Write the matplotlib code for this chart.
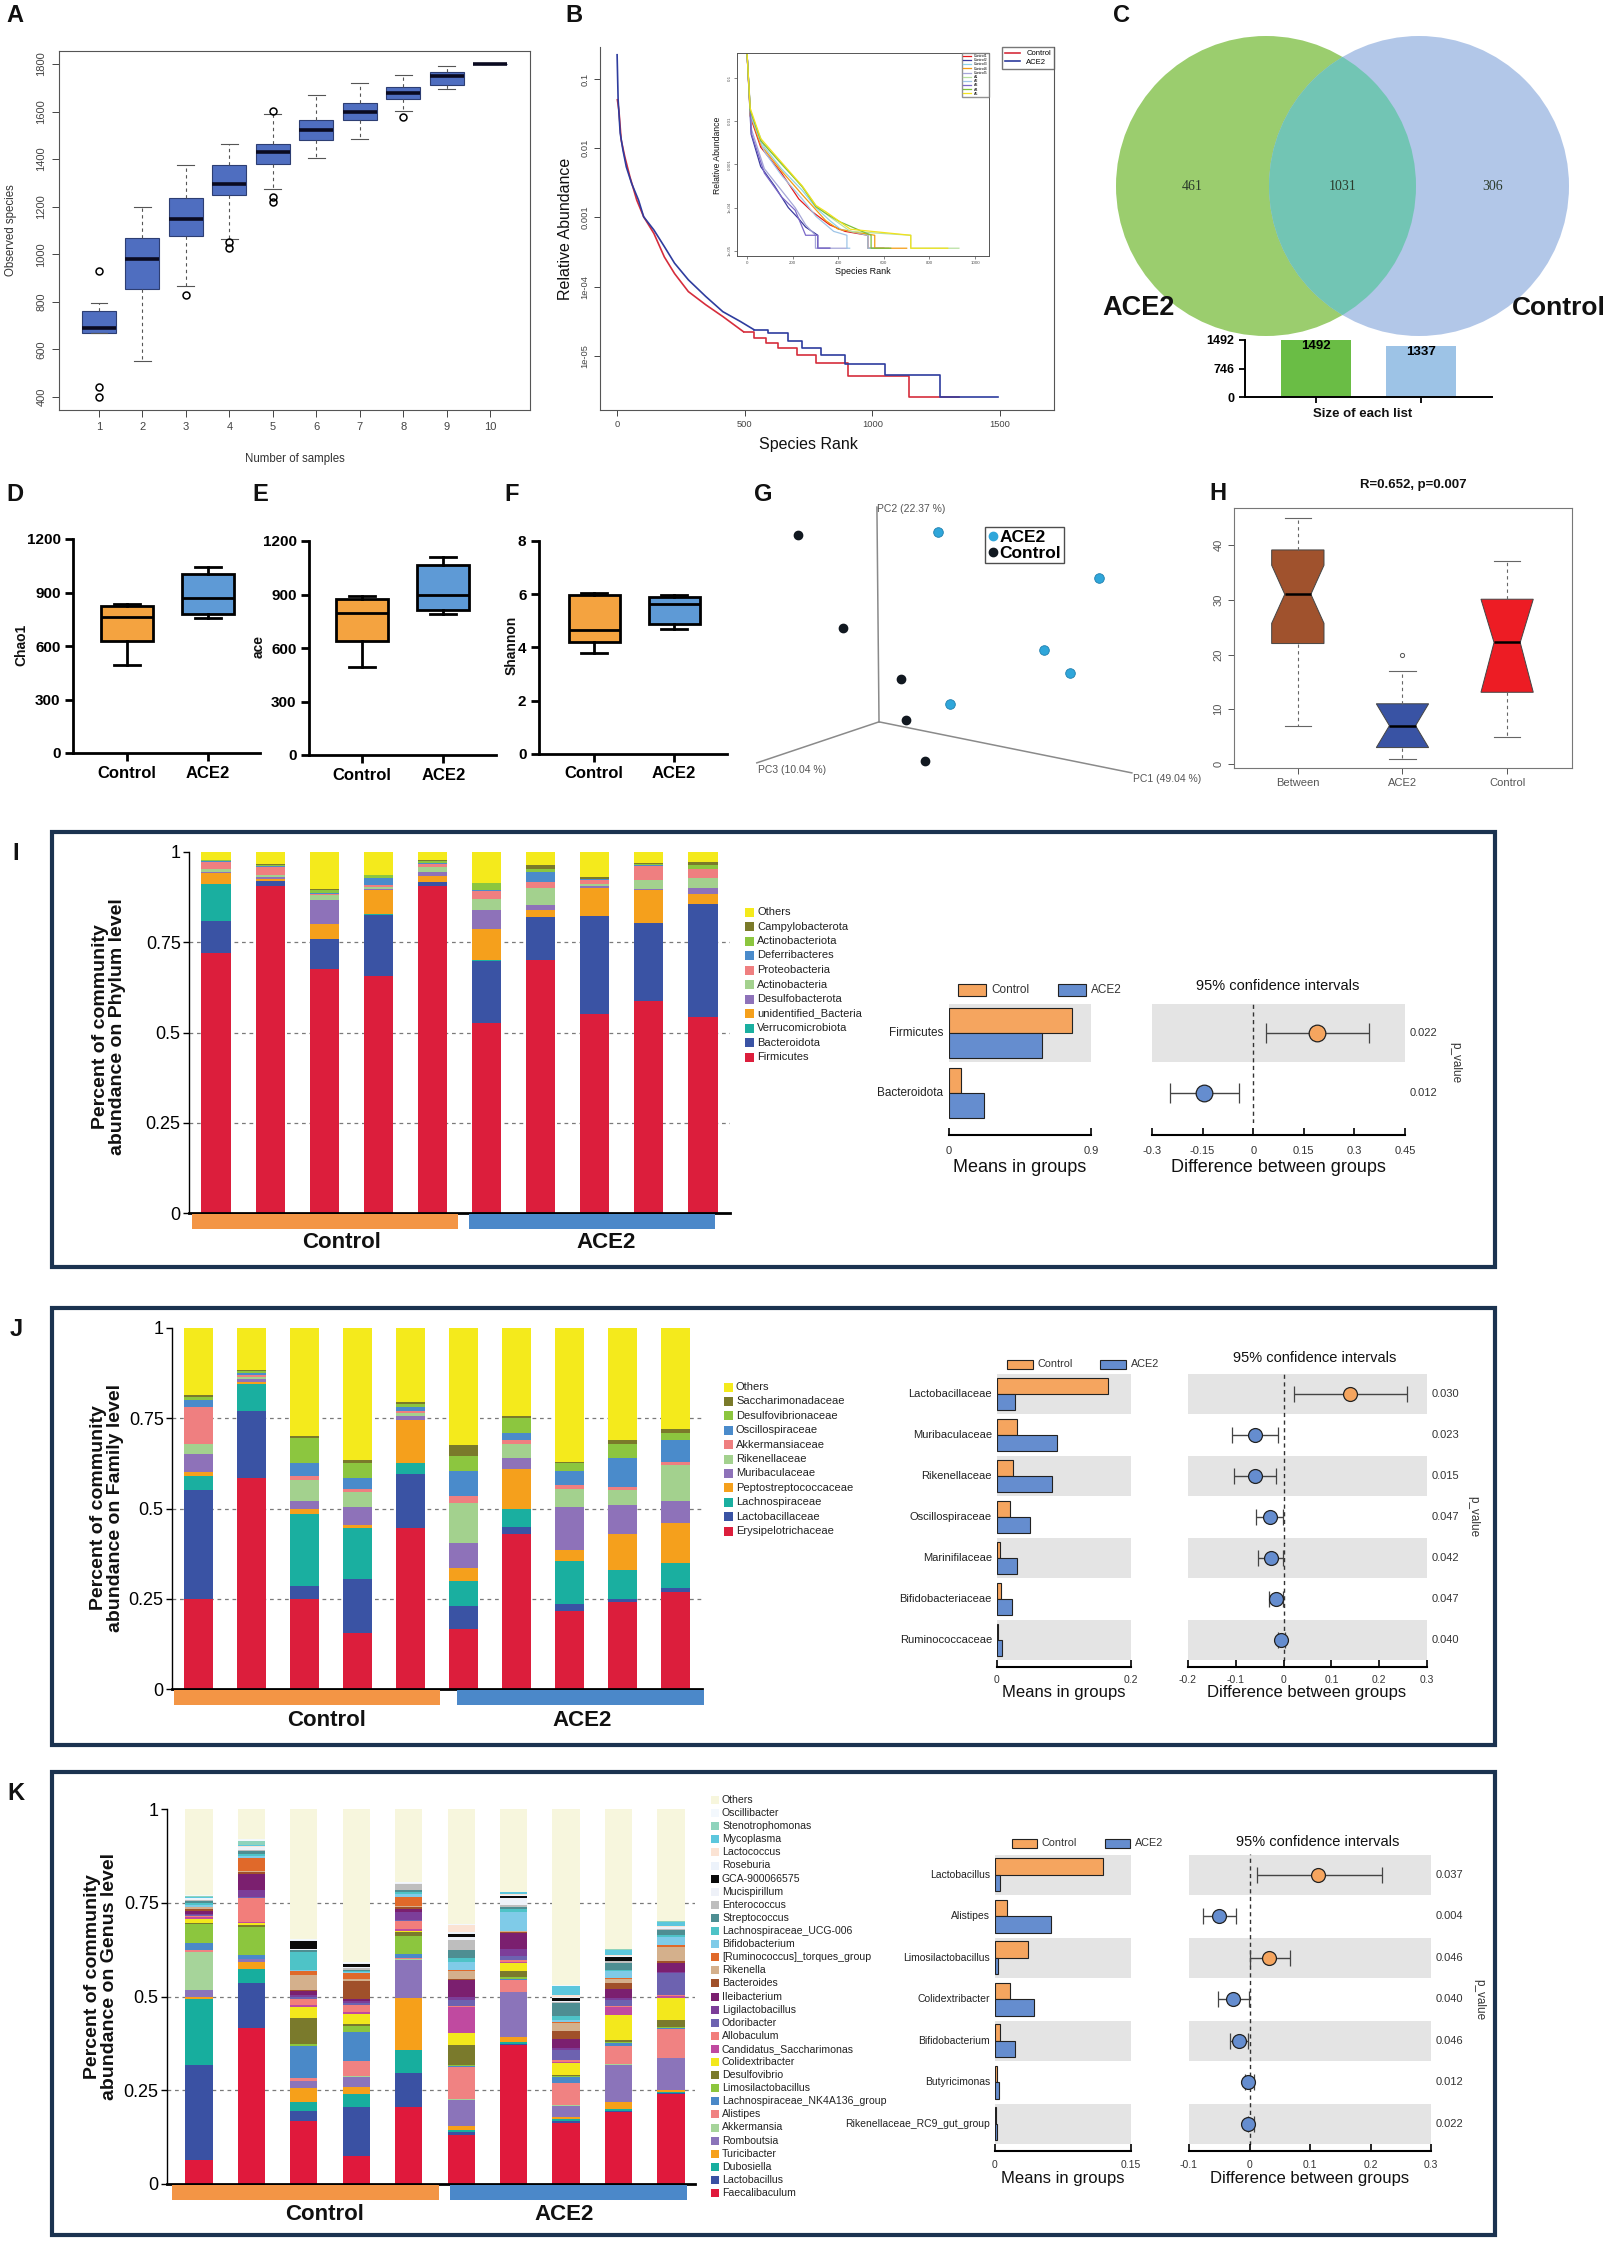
import numpy as np
import matplotlib
matplotlib.use("Agg")
import matplotlib.pyplot as plt
from matplotlib.patches import Circle, Rectangle
from matplotlib.lines import Line2D
from matplotlib.ticker import NullLocator
from matplotlib.transforms import blended_transform_factory

plt.rcParams["font.family"] = ["Liberation Sans", "DejaVu Sans"]
NARROW = ["Liberation Sans Narrow", "Liberation Sans", "DejaVu Sans"]
SERIF = ["Liberation Serif", "DejaVu Serif"]

# ---------------- A: observed species vs number of samples ----------------
a_samples = [1, 2, 3, 4, 5, 6, 7, 8, 9, 10]
a_whislo = [667, 553, 868, 1066, 1275, 1403, 1485, 1601, 1695, 1800]
a_q1 = [667, 855, 1078, 1250, 1379, 1480, 1563, 1654, 1712, 1800]
a_med = [688, 979, 1148, 1294, 1432, 1521, 1598, 1679, 1749, 1800]
a_q3 = [761, 1067, 1236, 1377, 1463, 1563, 1636, 1703, 1765, 1800]
a_whishi = [796, 1199, 1376, 1463, 1589, 1671, 1719, 1756, 1792, 1800]
a_fliers = [[929, 442, 400], [], [830], [1050, 1025], [1603, 1243, 1221], [], [], [1577], [], []]

# ---------------- B: rank abundance (log10 relative abundance) ----------------
ctrl_rank_head = [1, 7, 16, 30, 50, 77, 104, 144, 185, 225, 279, 347, 414, 495]
ctrl_log_head = [-1.30, -1.45, -1.88, -2.12, -2.41, -2.75, -2.99, -3.23, -3.57, -3.81, -4.07, -4.26, -4.43, -4.65]
ctrl_rank_tail = [495, 536, 583, 630, 704, 778, 906, 1143, 1337]
ctrl_log_tail = [-4.65, -4.745, -4.817, -4.89, -4.985, -5.106, -5.284, -5.587, -5.587]
ace2_rank_head = [0, 4, 12, 23, 36, 57, 84, 104, 144, 185, 225, 279, 347, 414, 482, 536]
ace2_log_head = [-0.65, -1.30, -1.78, -2.03, -2.27, -2.51, -2.75, -2.99, -3.18, -3.42, -3.66, -3.90, -4.14, -4.36, -4.50, -4.62]
ace2_rank_tail = [536, 589, 670, 724, 799, 893, 1048, 1264, 1492]
ace2_log_tail = [-4.62, -4.67, -4.79, -4.89, -4.99, -5.11, -5.28, -5.59, -5.59]

inset_labels = ["Control1", "Control2", "Control3", "Control4", "Control5", "A1", "A2", "A3", "A4", "A5"]
inset_colors = ["#E41A1C", "#3A3A9E", "#8FD3E8", "#F39C12", "#A6A6D8", "#B8E0A0", "#9FC5E8", "#7B68C8", "#7CBF3A", "#F2E21C"]
ins1_r = [0, 15, 60, 151, 227, 287, 363, 430, 530, 530, 600]
ins1_l = [-0.42, -1.9, -2.6, -3.2, -3.8, -4.1, -4.4, -4.55, -4.64, -4.94, -4.94]
ins2_r = [0, 18, 60, 121, 181, 227, 257, 310, 310, 363]
ins2_l = [-0.42, -2.3, -3.05, -3.5, -4.0, -4.26, -4.45, -4.64, -4.94, -4.94]
ins3_r = [0, 15, 76, 151, 242, 302, 363, 410, 530, 530, 620]
ins3_l = [-0.42, -1.8, -2.6, -3.1, -3.6, -4.0, -4.3, -4.5, -4.64, -4.94, -4.94]
ins4_r = [0, 14, 60, 151, 242, 302, 345, 400, 560, 560, 700]
ins4_l = [-0.42, -1.85, -2.55, -3.15, -3.7, -4.05, -4.3, -4.5, -4.64, -4.94, -4.94]
ins5_r = [0, 20, 76, 151, 211, 257, 300, 300, 438]
ins5_l = [-0.42, -2.2, -3.1, -3.6, -4.0, -4.4, -4.64, -4.94, -4.94]
ins6_r = [0, 14, 60, 151, 242, 302, 360, 453, 718, 718, 929]
ins6_l = [-0.42, -1.75, -2.45, -3.0, -3.5, -3.95, -4.2, -4.55, -4.64, -4.94, -4.94]
ins7_r = [0, 15, 76, 151, 242, 302, 380, 438, 438, 450]
ins7_l = [-0.42, -1.85, -2.7, -3.25, -3.8, -4.2, -4.55, -4.64, -4.94, -4.94]
ins8_r = [0, 20, 76, 151, 211, 257, 310, 310, 363]
ins8_l = [-0.42, -2.3, -3.2, -3.75, -4.06, -4.64, -4.64, -4.94, -4.94]
ins9_r = [0, 14, 60, 151, 242, 302, 347, 408, 544, 544, 630]
ins9_l = [-0.42, -1.75, -2.45, -2.98, -3.52, -3.98, -4.14, -4.33, -4.64, -4.94, -4.94]
ins10_r = [0, 14, 60, 151, 242, 302, 347, 453, 718, 718, 880]
ins10_l = [-0.42, -1.7, -2.4, -2.95, -3.5, -3.95, -4.1, -4.5, -4.64, -4.94, -4.94]

# ---------------- C: Venn ----------------
venn_ace2_only = 461
venn_shared = 1031
venn_ctrl_only = 306
list_sizes = [1492, 1337]

# ---------------- D-F: alpha diversity (whislo, q1, med, q3, whishi) ----------------
chao1_ctrl = [494, 629, 760, 825, 834]
chao1_ace2 = [756, 780, 871, 1002, 1045]
ace_ctrl = [495, 638, 799, 877, 890]
ace_ace2 = [793, 812, 896, 1066, 1110]
shannon_ctrl = [3.78, 4.21, 4.675, 5.96, 6.06]
shannon_ace2 = [4.71, 4.9, 5.625, 5.9, 5.975]

# ---------------- G: PCoA (projected coordinates, 0-100) ----------------
g_ace2_u = [47.1, 85.5, 72.4, 78.6, 50.0]
g_ace2_v = [87.5, 71.9, 47.5, 39.7, 29.2]
g_ctrl_u = [24.5, 38.3, 39.5, 44.0, 13.8]
g_ctrl_v = [54.9, 37.6, 23.7, 9.8, 86.4]

# ---------------- H: ANOSIM ----------------
anosim_groups = ["Between", "ACE2", "Control"]
anosim_whislo = [7.0, 1.0, 5.0]
anosim_q1 = [22.0, 3.0, 13.1]
anosim_med = [31.0, 7.0, 22.2]
anosim_q3 = [39.1, 11.0, 30.1]
anosim_whishi = [45.0, 17.0, 37.1]
anosim_cilo = [25.7, 3.0, 13.1]
anosim_cihi = [36.3, 11.0, 30.1]
anosim_fliers = [[], [20.0], []]

# ---------------- I: phylum ----------------
phylum_names = ["Firmicutes", "Bacteroidota", "Verrucomicrobiota", "unidentified_Bacteria", "Desulfobacterota",
                "Actinobacteria", "Proteobacteria", "Deferribacteres", "Actinobacteriota", "Campylobacterota", "Others"]
phy_s1 = [0.720, 0.089, 0.101, 0.032, 0.003, 0.009, 0.018, 0.003, 0.003, 0.001]
phy_s2 = [0.906, 0.013, 0.000, 0.007, 0.005, 0.006, 0.021, 0.003, 0.004, 0.003]
phy_s3 = [0.675, 0.083, 0.002, 0.040, 0.068, 0.012, 0.005, 0.001, 0.008, 0.003]
phy_s4 = [0.657, 0.168, 0.002, 0.067, 0.004, 0.005, 0.005, 0.021, 0.006, 0.002]
phy_s5 = [0.905, 0.012, 0.001, 0.015, 0.012, 0.013, 0.010, 0.002, 0.005, 0.002]
phy_s6 = [0.527, 0.172, 0.002, 0.087, 0.052, 0.030, 0.022, 0.002, 0.020, 0.001]
phy_s7 = [0.702, 0.118, 0.001, 0.017, 0.014, 0.049, 0.016, 0.028, 0.009, 0.009]
phy_s8 = [0.552, 0.270, 0.001, 0.077, 0.005, 0.007, 0.010, 0.002, 0.002, 0.005]
phy_s9 = [0.587, 0.216, 0.001, 0.090, 0.004, 0.025, 0.037, 0.003, 0.005, 0.002]
phy_s10 = [0.543, 0.312, 0.001, 0.028, 0.015, 0.028, 0.025, 0.002, 0.009, 0.010]

phy_diff_names = ["Firmicutes", "Bacteroidota"]
phy_mean_ctrl = [0.78, 0.076]
phy_mean_ace2 = [0.589, 0.222]
phy_diff = [0.189, -0.145]
phy_ci_lo = [0.038, -0.248]
phy_ci_hi = [0.343, -0.041]
phy_p = ["0.022", "0.012"]

# ---------------- J: family ----------------
family_names = ["Erysipelotrichaceae", "Lactobacillaceae", "Lachnospiraceae", "Peptostreptococcaceae", "Muribaculaceae",
                "Rikenellaceae", "Akkermansiaceae", "Oscillospiraceae", "Desulfovibrionaceae", "Saccharimonadaceae", "Others"]
fam_s1 = [0.250, 0.300, 0.040, 0.010, 0.050, 0.030, 0.100, 0.020, 0.010, 0.005]
fam_s2 = [0.585, 0.185, 0.075, 0.005, 0.010, 0.005, 0.005, 0.005, 0.005, 0.005]
fam_s3 = [0.250, 0.035, 0.200, 0.015, 0.020, 0.060, 0.010, 0.035, 0.070, 0.005]
fam_s4 = [0.155, 0.150, 0.140, 0.010, 0.050, 0.040, 0.010, 0.030, 0.040, 0.010]
fam_s5 = [0.445, 0.150, 0.030, 0.120, 0.010, 0.010, 0.005, 0.010, 0.010, 0.005]
fam_s6 = [0.165, 0.065, 0.070, 0.035, 0.070, 0.110, 0.020, 0.070, 0.040, 0.030]
fam_s7 = [0.430, 0.020, 0.050, 0.110, 0.030, 0.040, 0.010, 0.020, 0.040, 0.005]
fam_s8 = [0.215, 0.020, 0.120, 0.030, 0.120, 0.050, 0.010, 0.040, 0.020, 0.005]
fam_s9 = [0.240, 0.010, 0.080, 0.100, 0.080, 0.040, 0.010, 0.080, 0.040, 0.010]
fam_s10 = [0.270, 0.010, 0.070, 0.110, 0.060, 0.100, 0.010, 0.060, 0.020, 0.010]

fam_diff_names = ["Lactobacillaceae", "Muribaculaceae", "Rikenellaceae", "Oscillospiraceae",
                  "Marinifilaceae", "Bifidobacteriaceae", "Ruminococcaceae"]
fam_mean_ctrl = [0.166, 0.030, 0.024, 0.0195, 0.0045, 0.006, 0.001]
fam_mean_ace2 = [0.027, 0.089, 0.082, 0.049, 0.030, 0.022, 0.007]
fam_diff = [0.139, -0.059, -0.059, -0.029, -0.027, -0.016, -0.006]
fam_ci_lo = [0.021, -0.108, -0.103, -0.058, -0.053, -0.030, -0.011]
fam_ci_hi = [0.258, -0.011, -0.015, -0.001, -0.001, -0.002, 0.003]
fam_p = ["0.030", "0.023", "0.015", "0.047", "0.042", "0.047", "0.040"]

# ---------------- K: genus ----------------
genus_names = ["Faecalibaculum", "Lactobacillus", "Dubosiella", "Turicibacter", "Romboutsia", "Akkermansia", "Alistipes",
               "Lachnospiraceae_NK4A136_group", "Limosilactobacillus", "Desulfovibrio", "Colidextribacter",
               "Candidatus_Saccharimonas", "Allobaculum", "Odoribacter", "Ligilactobacillus", "Ileibacterium",
               "Bacteroides", "Rikenella", "[Ruminococcus]_torques_group", "Bifidobacterium", "Lachnospiraceae_UCG-006",
               "Streptococcus", "Enterococcus", "Mucispirillum", "GCA-900066575", "Roseburia", "Lactococcus",
               "Mycoplasma", "Stenotrophomonas", "Oscillibacter", "Others"]
gen_s1 = [.064, .254, .175, .005, .020, .102, .005, .019, .050, .003, .009, .005, .004, .003, .003, .006, .007, .004,
          .002, .003, .006, .005, .003, .002, .002, .002, .001, .001, .002, .003]
gen_s2 = [.415, .122, .036, .018, .009, .000, .000, .010, .075, .006, .005, .002, .065, .003, .017, .045, .003, .003,
          .035, .005, .006, .008, .004, .003, .001, .004, .002, .002, .012, .004]
gen_s3 = [.168, .028, .024, .035, .021, .000, .006, .086, .006, .068, .031, .005, .015, .005, .006, .012, .002, .040,
          .009, .003, .050, .003, .002, .001, .022, .003, .000, .000, .000, .002]
gen_s4 = [.075, .131, .033, .021, .025, .002, .042, .077, .016, .004, .027, .005, .020, .006, .004, .005, .049, .004,
          .018, .002, .003, .002, .004, .004, .008, .002, .001, .000, .000, .002]
gen_s5 = [.206, .089, .063, .138, .102, .003, .002, .011, .047, .011, .003, .004, .022, .004, .020, .009, .004, .003,
          .024, .009, .004, .005, .017, .002, .001, .001, .000, .000, .000, .001]
gen_s6 = [.131, .009, .003, .012, .069, .002, .085, .004, .003, .053, .031, .071, .002, .016, .007, .046, .004, .019,
          .003, .023, .009, .023, .027, .008, .007, .004, .021, .000, .000, .002]
gen_s7 = [.371, .002, .007, .013, .118, .002, .031, .004, .004, .017, .020, .004, .004, .012, .017, .043, .002, .003,
          .002, .050, .008, .006, .004, .020, .004, .004, .002, .004, .000, .001]
gen_s8 = [.164, .004, .005, .005, .030, .002, .060, .015, .003, .003, .031, .004, .004, .028, .004, .024, .021, .022,
          .004, .004, .010, .035, .004, .002, .007, .004, .004, .024, .002, .003]
gen_s9 = [.191, .005, .003, .021, .098, .002, .048, .007, .004, .004, .068, .021, .004, .016, .004, .023, .016, .011,
          .004, .018, .004, .018, .004, .002, .009, .004, .002, .013, .002, .001]
gen_s10 = [.239, .004, .003, .005, .084, .002, .076, .004, .003, .018, .058, .006, .003, .057, .004, .023, .007, .037,
           .004, .022, .004, .014, .004, .002, .001, .002, .002, .011, .002, .001]

gen_diff_names = ["Lactobacillus", "Alistipes", "Limosilactobacillus", "Colidextribacter",
                  "Bifidobacterium", "Butyricimonas", "Rikenellaceae_RC9_gut_group"]
gen_mean_ctrl = [0.119, 0.013, 0.036, 0.016, 0.006, 0.002, 0.0015]
gen_mean_ace2 = [0.005, 0.062, 0.003, 0.043, 0.0225, 0.004, 0.002]
gen_diff = [0.114, -0.050, 0.032, -0.028, -0.017, -0.003, -0.002]
gen_ci_lo = [0.012, -0.077, 0.001, -0.052, -0.032, -0.008, -0.003]
gen_ci_hi = [0.219, -0.022, 0.067, -0.001, -0.002, 0.008, 0.008]
gen_p = ["0.037", "0.004", "0.046", "0.040", "0.046", "0.012", "0.022"]

# ---------------- colours ----------------
phylum_colors = ["#DC1E3C", "#3A53A4", "#1AAFA0", "#F5A01C", "#8E72B9", "#A3D18E", "#EF7F80", "#4A8BCB",
                 "#8CC63F", "#7A7A2A", "#F4EA1C"]
family_colors = phylum_colors
genus_colors = ["#E0193C", "#3A51A3", "#17AE9E", "#F6A01A", "#8B74BA", "#A6D49A", "#F08282", "#4A89C8", "#8CC63E",
                "#7A7A2C", "#F3E81C", "#C04AA0", "#F27E7B", "#6D62B0", "#7C3E99", "#7B1F6F", "#A0502A", "#D4B08C",
                "#E0692A", "#7FCBE8", "#4EC3C7", "#4E8E92", "#BEBEBE", "#EEF1F8", "#0A0A0A", "#EDF3FB", "#FBE3D4",
                "#5CC7DD", "#8FD3BC", "#F3F8FD", "#F7F6DD"]
ORANGE = "#F4A340"
BLUE = "#5E9AD6"
S_ORANGE = "#F5A55F"
S_BLUE = "#658DCF"
GRP_ORANGE = "#F39545"
GRP_BLUE = "#4B88C9"

W, H = 1614, 2244
fig = plt.figure(figsize=(W / 100, H / 100), dpi=100)


def px_axes(x0, y0, x1, y1):
    return fig.add_axes([x0 / W, 1 - y1 / H, (x1 - x0) / W, (y1 - y0) / H])


def ftext(x, y, s, **kw):
    kw.setdefault("ha", "center")
    kw.setdefault("va", "center")
    kw.setdefault("color", "#111111")
    return fig.text(x / W, 1 - y / H, s, **kw)


def frect(x0, y0, x1, y1, **kw):
    fig.add_artist(Rectangle((x0 / W, 1 - y1 / H), (x1 - x0) / W, (y1 - y0) / H,
                             transform=fig.transFigure, **kw))


# panel letters
for lab, x, y in [("A", 15, 15), ("B", 574, 16), ("C", 1121, 15), ("D", 15, 494), ("E", 260, 494),
                  ("F", 512, 494), ("G", 763, 494), ("H", 1218, 493), ("I", 16, 853), ("J", 16, 1329),
                  ("K", 16, 1793)]:
    ftext(x, y, lab, fontsize=17, fontweight="bold")

# ================= A =================
axA = px_axes(59, 51, 530, 410)
statsA = [dict(whislo=lo, q1=q1, med=m, q3=q3, whishi=hi, fliers=fl)
          for lo, q1, m, q3, hi, fl in zip(a_whislo, a_q1, a_med, a_q3, a_whishi, a_fliers)]
axA.bxp(statsA, positions=a_samples, widths=0.78, patch_artist=True,
        boxprops=dict(facecolor="#4F6EC0", edgecolor="#2D3E73", lw=0.8),
        medianprops=dict(color="#0A0A20", lw=2.6),
        whiskerprops=dict(color="#555555", lw=0.8, ls=(0, (3, 3))),
        capprops=dict(color="#555555", lw=0.8),
        flierprops=dict(marker="o", mfc="none", mec="black", ms=5, mew=1.1))
axA.set_xlim(0.08, 10.92)
axA.set_ylim(345, 1855)
axA.set_xticks(a_samples)
axA.set_xticklabels([str(v) for v in a_samples])
axA.set_yticks(range(400, 1801, 200))
axA.tick_params(labelsize=8, colors="#444444", length=5, width=0.7, pad=4)
for lab in axA.get_yticklabels():
    lab.set_rotation(90)
    lab.set_va("center")
for s in axA.spines.values():
    s.set_color("#555555")
    s.set_linewidth(0.8)
ftext(295, 459, "Number of samples", fontsize=8.3, color="#333333")
ftext(11, 230, "Observed species", fontsize=8.3, rotation=90, color="#333333")

# ================= B =================
B_RED = "#D62D3C"
B_BLUE = "#2E3C9E"
axB = px_axes(600, 47, 1054, 410)
axB.plot(ctrl_rank_head, 10.0 ** np.array(ctrl_log_head), color=B_RED, lw=1.2)
axB.step(ctrl_rank_tail, 10.0 ** np.array(ctrl_log_tail), where="post", color=B_RED, lw=1.2)
axB.plot(ace2_rank_head, 10.0 ** np.array(ace2_log_head), color=B_BLUE, lw=1.2)
axB.step(ace2_rank_tail, 10.0 ** np.array(ace2_log_tail), where="post", color=B_BLUE, lw=1.2)
axB.set_yscale("log")
axB.set_xlim(-67, 1711)
axB.set_ylim(10 ** -5.78, 10 ** -0.538)
axB.set_xticks([0, 500, 1000, 1500])
axB.set_yticks([0.1, 0.01, 0.001, 1e-4, 1e-5])
axB.set_yticklabels(["0.1", "0.01", "0.001", "1e-04", "1e-05"])
axB.yaxis.set_minor_locator(NullLocator())
axB.tick_params(labelsize=6.7, colors="#444444", length=4, width=0.7)
for lab in axB.get_yticklabels():
    lab.set_rotation(90)
    lab.set_va("center")
axB.spines["top"].set_visible(False)
for s in ("left", "bottom", "right"):
    axB.spines[s].set_color("#555555")
    axB.spines[s].set_linewidth(0.8)
axB.legend(handles=[Line2D([], [], color=B_RED, lw=1.2, label="Control"),
                    Line2D([], [], color=B_BLUE, lw=1.2, label="ACE2")],
           loc="upper right", bbox_to_anchor=(1.0, 1.0), fontsize=5.5, frameon=True, fancybox=False,
           edgecolor="#555555", borderpad=0.4, handlelength=2.0, labelspacing=0.15, borderaxespad=0)
ftext(566, 229, "Relative Abundance", fontsize=11.5, rotation=90)
ftext(808, 445, "Species Rank", fontsize=11.5)

axBi = px_axes(737, 53, 989, 256)
inset_curves = [(ins1_r, ins1_l), (ins2_r, ins2_l), (ins3_r, ins3_l), (ins4_r, ins4_l), (ins5_r, ins5_l),
                (ins6_r, ins6_l), (ins7_r, ins7_l), (ins8_r, ins8_l), (ins9_r, ins9_l), (ins10_r, ins10_l)]
for (rr, ll), col, lab in zip(inset_curves, inset_colors, inset_labels):
    axBi.plot(rr, 10.0 ** np.array(ll), color=col, lw=0.9, label=lab)
axBi.set_yscale("log")
axBi.set_xlim(-44, 1061)
axBi.set_ylim(10 ** -5.12, 10 ** -0.42)
axBi.set_xticks([0, 200, 400, 600, 800, 1000])
axBi.set_yticks([0.1, 0.01, 0.001, 1e-4, 1e-5])
axBi.set_yticklabels(["0.1", "0.01", "0.001", "1e-04", "1e-05"])
axBi.yaxis.set_minor_locator(NullLocator())
axBi.tick_params(labelsize=3.2, colors="#555555", length=2, width=0.5, pad=1.5)
for lab in axBi.get_yticklabels():
    lab.set_rotation(90)
    lab.set_va("center")
for s in axBi.spines.values():
    s.set_color("#555555")
    s.set_linewidth(0.7)
axBi.legend(loc="upper right", fontsize=2.6, frameon=True, fancybox=False, edgecolor="#777777",
            handlelength=2.2, labelspacing=0.05, borderpad=0.3, borderaxespad=0)
ftext(718, 155, "Relative Abundance", fontsize=6.2, rotation=90)
ftext(863, 272, "Species Rank", fontsize=6.5)

# ================= C =================
axC = px_axes(1090, 20, 1614, 345)
axC.set_xlim(1090, 1614)
axC.set_ylim(345, 20)
axC.axis("off")
c_green = Circle((1266, 186), 150, fc="#9BCD6E", ec="none")
c_blue = Circle((1419, 186), 150, fc="#B2C7E8", ec="none")
axC.add_patch(c_green)
axC.add_patch(c_blue)
c_both = Circle((1266, 186), 150, fc="#72C5B4", ec="none")
axC.add_patch(c_both)
c_both.set_clip_path(c_blue)
axC.text(1192, 186, str(venn_ace2_only), ha="center", va="center", fontsize=10, family=SERIF, color="#2B3B2B")
axC.text(1343, 186, str(venn_shared), ha="center", va="center", fontsize=10, family=SERIF, color="#2B3B2B")
axC.text(1493, 186, str(venn_ctrl_only), ha="center", va="center", fontsize=10, family=SERIF, color="#2B3B2B")
ftext(1102, 308, "ACE2", ha="left", fontsize=19.5, fontweight="bold")
ftext(1606, 308, "Control", ha="right", fontsize=19, fontweight="bold")

axCb = px_axes(1245, 340, 1492, 397)
axCb.bar([1, 2], list_sizes, width=0.667, color=["#6ABD45", "#9DC3E6"])
axCb.set_xlim(0.324, 2.676)
axCb.set_ylim(0, list_sizes[0])
axCb.set_yticks([0, list_sizes[0] / 2, list_sizes[0]])
axCb.set_yticklabels(["0", str(int(list_sizes[0] / 2)), str(list_sizes[0])], fontweight="bold")
axCb.set_xticks([1, 2])
axCb.set_xticklabels([])
axCb.tick_params(labelsize=9, length=4, width=1.3)
for s in ("top", "right"):
    axCb.spines[s].set_visible(False)
for s in ("left", "bottom"):
    axCb.spines[s].set_linewidth(1.4)
for xi, v in zip([1, 2], list_sizes):
    axCb.text(xi, v - 0.11 * list_sizes[0], str(v), ha="center", va="center", fontsize=9.5, fontweight="bold")
ftext(1363, 414, "Size of each list", fontsize=9.5, fontweight="bold")


# ================= D-F =================
def alpha_box(box, ctrl, ace2, xlim, ymax, yticks, ylab, ylab_xy):
    ax = px_axes(*box)
    st = [dict(whislo=v[0], q1=v[1], med=v[2], q3=v[3], whishi=v[4], fliers=[]) for v in (ctrl, ace2)]
    b = ax.bxp(st, positions=[1, 2], widths=0.64, capwidths=0.32, patch_artist=True,
               boxprops=dict(lw=2.0, edgecolor="black"), medianprops=dict(color="black", lw=2.0),
               whiskerprops=dict(color="black", lw=2.0), capprops=dict(color="black", lw=2.0))
    for patch, c in zip(b["boxes"], [ORANGE, BLUE]):
        patch.set_facecolor(c)
    ax.set_xlim(xlim)
    ax.set_ylim(0, ymax)
    ax.set_yticks(yticks)
    ax.set_yticklabels([str(t) for t in yticks], family=NARROW, fontweight="bold", fontsize=11)
    ax.set_xticks([1, 2])
    ax.set_xticklabels(["Control", "ACE2"], family=NARROW, fontweight="bold", fontsize=12)
    ax.tick_params(length=6, width=2, pad=3)
    for s in ("top", "right"):
        ax.spines[s].set_visible(False)
    for s in ("left", "bottom"):
        ax.spines[s].set_linewidth(2)
    ftext(ylab_xy[0], ylab_xy[1], ylab, rotation=90, fontsize=10, fontweight="bold")


alpha_box((73, 539, 260, 753), chao1_ctrl, chao1_ace2, (0.333, 2.64), 1200, [0, 300, 600, 900, 1200],
          "Chao1", (21, 645))
alpha_box((309, 541, 496, 755), ace_ctrl, ace_ace2, (0.345, 2.65), 1200, [0, 300, 600, 900, 1200],
          "ace", (259, 647))
alpha_box((539, 541, 727, 754), shannon_ctrl, shannon_ace2, (0.31, 2.66), 8, [0, 2, 4, 6, 8],
          "Shannon", (512, 645))

# ================= G =================
axG = px_axes(740, 495, 1160, 790)
axG.set_xlim(0, 100)
axG.set_ylim(0, 100)
axG.axis("off")
origin = (33.1, 23.1)
for end in [(32.6, 95.9), (93.3, 5.8), (4.0, 9.2)]:
    axG.plot([origin[0], end[0]], [origin[1], end[1]], color="#8A8A8A", lw=1.1)
axG.text(32.6, 95.3, "PC2 (22.37 %)", fontsize=7.5, family=NARROW, color="#555555", ha="left", va="center")
axG.text(93.6, 3.7, "PC1 (49.04 %)", fontsize=7.5, family=NARROW, color="#555555", ha="left", va="center")
axG.text(4.3, 6.8, "PC3 (10.04 %)", fontsize=7.5, family=NARROW, color="#555555", ha="left", va="center")
axG.scatter(g_ace2_u, g_ace2_v, s=48, color="#2FA6DA", edgecolor="#1F7FAE", lw=0.6, zorder=3)
axG.scatter(g_ctrl_u, g_ctrl_v, s=36, color="#111820", zorder=3)
axG.legend(handles=[Line2D([], [], marker="o", ls="", mfc="#2FA6DA", mec="#2FA6DA", ms=6, label="ACE2"),
                    Line2D([], [], marker="o", ls="", mfc="#111820", mec="#111820", ms=6, label="Control")],
           loc="upper left", bbox_to_anchor=(0.583, 0.892), frameon=True, fancybox=False, edgecolor="#222222",
           prop=dict(family=NARROW, weight="bold", size=12.5), borderpad=0.15, handletextpad=0.1,
           handlelength=0.6, labelspacing=0.05, borderaxespad=0)

# ================= H =================
axH = px_axes(1234, 508, 1572, 768)
statsH = [dict(whislo=a, q1=b, med=c, q3=d, whishi=e, cilo=f, cihi=g, fliers=fl)
          for a, b, c, d, e, f, g, fl in zip(anosim_whislo, anosim_q1, anosim_med, anosim_q3, anosim_whishi,
                                             anosim_cilo, anosim_cihi, anosim_fliers)]
bh = axH.bxp(statsH, positions=[1, 2, 3], widths=0.5, capwidths=0.25, shownotches=True, patch_artist=True,
             boxprops=dict(lw=0.7, edgecolor="#444444"), medianprops=dict(color="black", lw=1.8),
             whiskerprops=dict(color="#666666", lw=0.8, ls=(0, (3, 3))), capprops=dict(color="#666666", lw=0.8),
             flierprops=dict(marker="o", mfc="none", mec="#555555", ms=3, mew=0.7))
for patch, c in zip(bh["boxes"], ["#A0522D", "#3953A4", "#ED1C24"]):
    patch.set_facecolor(c)
axH.set_xlim(0.39, 3.62)
axH.set_ylim(-0.73, 46.76)
axH.set_yticks([0, 10, 20, 30, 40])
axH.set_xticks([1, 2, 3])
axH.set_xticklabels(anosim_groups, family=NARROW)
axH.tick_params(labelsize=8, colors="#555555", length=4, width=0.7)
for lab in axH.get_yticklabels():
    lab.set_rotation(90)
    lab.set_va("center")
for s in axH.spines.values():
    s.set_color("#777777")
    s.set_linewidth(0.8)
ftext(1413, 485, "R=0.652, p=0.007", fontsize=9.5, fontweight="bold", family=NARROW)


# ================= I-K: stacked bars + STAMP =================
def stacked(box, samples, colors, xlim, width, ylabel, ylab_x, ylab_y, grp, grp_y, lab_xy):
    ax = px_axes(*box)
    x = np.arange(1, len(samples) + 1)
    vals = np.array([list(s) + [1 - sum(s)] for s in samples])
    bottom = np.zeros(len(samples))
    for j in range(vals.shape[1]):
        ax.bar(x, vals[:, j], width, bottom=bottom, color=colors[j], lw=0, zorder=2)
        bottom += vals[:, j]
    for v in (0.25, 0.5, 0.75):
        ax.axhline(v, color="#7A7A7A", lw=0.9, ls=(0, (3, 3)), zorder=1)
    ax.set_xlim(xlim)
    ax.set_ylim(0, 1)
    for s in ("top", "right"):
        ax.spines[s].set_visible(False)
    ax.spines["left"].set_linewidth(1.0)
    ax.spines["bottom"].set_linewidth(2.0)
    ax.set_xticks([])
    ax.set_yticks([0, 0.25, 0.5, 0.75, 1])
    ax.set_yticklabels(["0", "0.25", "0.5", "0.75", "1"], family=NARROW, fontsize=13)
    ax.tick_params(axis="y", length=4, width=1, pad=2)
    ftext(ylab_x, ylab_y, ylabel, rotation=90, fontsize=14, fontweight="bold", linespacing=1.05)
    (c0, c1), (a0, a1) = grp
    frect(c0, grp_y[0], c1, grp_y[1], color=GRP_ORANGE, lw=0)
    frect(a0, grp_y[0], a1, grp_y[1], color=GRP_BLUE, lw=0)
    ftext(lab_xy[0], lab_xy[2], "Control", fontsize=16, fontweight="bold", family=NARROW)
    ftext(lab_xy[1], lab_xy[2], "ACE2", fontsize=16, fontweight="bold", family=NARROW)
    return ax


def tax_legend(names, colors, x_sq, y0, dy, sq, fs):
    for k, (nm, c) in enumerate(zip(names, colors)):
        y = y0 + k * dy
        frect(x_sq, y - sq / 2, x_sq + sq, y + sq / 2, color=c, lw=0)
        ftext(x_sq + sq + 3, y, nm, ha="left", fontsize=fs, family=NARROW, color="#222222")


def stamp(names, m_ctrl, m_ace2, diff, lo, hi, pvals, g):
    n = len(names)
    top, rh = g["top"], g["row_h"]
    bot = top + n * rh
    axm = px_axes(g["mx"][0], top, g["mx"][1], bot)
    axd = px_axes(g["dx"][0], top, g["dx"][1], bot)
    for ax, lim, ticks, labs, xl_x, xl in ((axm, g["mlim"], g["mticks"], g["mlabs"], g["mxl_x"], "Means in groups"),
                                          (axd, g["dlim"], g["dticks"], g["dlabs"], g["dxl_x"],
                                           "Difference between groups")):
        ax.set_xlim(lim)
        ax.set_ylim(n - 0.5, -0.5)
        for i in range(0, n, 2):
            ax.axhspan(i - 0.48, i + 0.48, color="#E4E4E4", lw=0, zorder=0)
        for s in ("top", "right", "left"):
            ax.spines[s].set_visible(False)
        ax.spines["bottom"].set_position(("outward", (g["axis_y"] - bot) * 0.72))
        ax.spines["bottom"].set_linewidth(1.5)
        ax.set_yticks([])
        ax.set_xticks(ticks)
        ax.set_xticklabels([])
        ax.tick_params(axis="x", direction="in", length=5, width=1.2)
        tr = blended_transform_factory(ax.transData, fig.transFigure)
        for t, lb in zip(ticks, labs):
            ax.text(t, 1 - g["tick_y"] / H, lb, transform=tr, ha="center", va="center",
                    fontsize=g["fs_tick"], family=NARROW, color="#333333")
        ftext(xl_x, g["xl_y"], xl, fontsize=g["fs_xl"], family=NARROW)
    trm = blended_transform_factory(fig.transFigure, axm.transData)
    trd = blended_transform_factory(fig.transFigure, axd.transData)
    for i in range(n):
        axm.barh(i - g["bh"] / 2, m_ctrl[i], height=g["bh"], color=S_ORANGE, edgecolor="#222222", lw=0.8, zorder=2)
        axm.barh(i + g["bh"] / 2, m_ace2[i], height=g["bh"], color=S_BLUE, edgecolor="#222222", lw=0.8, zorder=2)
        axm.text(g["lab_x"] / W, i, names[i], transform=trm, ha="right", va="center",
                 fontsize=g["fs_lab"], family=NARROW, color="#222222")
        c = S_ORANGE if diff[i] > 0 else S_BLUE
        axd.errorbar(diff[i], i, xerr=[[diff[i] - lo[i]], [hi[i] - diff[i]]], fmt="o", ms=g["ms"], mfc=c,
                     mec="#222222", mew=0.9, ecolor="#444444", elinewidth=1.0, capsize=g["cap"], capthick=1.0,
                     zorder=3)
        axd.text(g["pv_x"] / W, i, pvals[i], transform=trd, ha="left", va="center",
                 fontsize=g["fs_pv"], family=NARROW, color="#333333")
    axd.axvline(0, color="#333333", lw=1.0, ls=(0, (3, 2.5)), zorder=1)
    ftext(g["pl_x"], (top + bot) / 2, "p_value", rotation=270, fontsize=g["fs_pv"] + 0.5, family=NARROW,
          color="#333333")
    ftext(g["title"][0], g["title"][1], "95% confidence intervals", fontsize=g["fs_title"], family=NARROW)
    ly = g["leg_y"]
    bhp = g["leg_h"]
    frect(g["leg_c"][0], ly - bhp / 2, g["leg_c"][1], ly + bhp / 2, fc=S_ORANGE, ec="#222222", lw=0.8)
    frect(g["leg_a"][0], ly - bhp / 2, g["leg_a"][1], ly + bhp / 2, fc=S_BLUE, ec="#222222", lw=0.8)
    ftext(g["leg_c"][1] + 5, ly, "Control", ha="left", fontsize=g["fs_leg"], family=NARROW, color="#333333")
    ftext(g["leg_a"][1] + 5, ly, "ACE2", ha="left", fontsize=g["fs_leg"], family=NARROW, color="#333333")


FRAME = "#1B3350"
# ---- I ----
frect(52, 832, 1495, 1267, fill=False, ec=FRAME, lw=3)
stacked((189, 852, 730, 1213), [phy_s1, phy_s2, phy_s3, phy_s4, phy_s5, phy_s6, phy_s7, phy_s8, phy_s9, phy_s10],
        phylum_colors, (0.5, 10.5), 0.54, "Percent of community\nabundance on Phylum level", 109, 1027,
        ((192, 458), (469, 715)), (1214, 1229), (342, 606, 1243))
tax_legend(phylum_names[::-1], phylum_colors[::-1], 745, 912, 14.5, 9, 8)
stamp(phy_diff_names, phy_mean_ctrl, phy_mean_ace2, phy_diff, phy_ci_lo, phy_ci_hi, phy_p,
      dict(mx=(949, 1091), dx=(1152, 1405), top=1003, row_h=60, axis_y=1135, mlim=(0, 0.9), mticks=[0, 0.9],
           mlabs=["0", "0.9"], dlim=(-0.3, 0.45), dticks=[-0.3, -0.15, 0, 0.15, 0.3, 0.45],
           dlabs=["-0.3", "-0.15", "0", "0.15", "0.3", "0.45"], lab_x=943, pv_x=1410, pl_x=1455,
           title=(1278, 986), leg_y=990, leg_h=12, leg_c=(958, 986), leg_a=(1058, 1086), tick_y=1151, xl_y=1168,
           mxl_x=1020, dxl_x=1278, fs_lab=8.5, fs_tick=8, fs_xl=13, fs_pv=8, fs_title=10.5, fs_leg=8.5,
           ms=12, cap=7, bh=0.42))

# ---- J ----
frect(52, 1308, 1495, 1745, fill=False, ec=FRAME, lw=3)
stacked((172, 1328, 702, 1689), [fam_s1, fam_s2, fam_s3, fam_s4, fam_s5, fam_s6, fam_s7, fam_s8, fam_s9, fam_s10],
        family_colors, (0.5, 10.5), 0.54, "Percent of community\nabundance on Family level", 107, 1508,
        ((174, 440), (457, 704)), (1690, 1705), (327, 582, 1721))
tax_legend(family_names[::-1], family_colors[::-1], 724, 1387, 14.4, 9, 8)
stamp(fam_diff_names, fam_mean_ctrl, fam_mean_ace2, fam_diff, fam_ci_lo, fam_ci_hi, fam_p,
      dict(mx=(997, 1131), dx=(1188, 1427), top=1373.5, row_h=41, axis_y=1667, mlim=(0, 0.2), mticks=[0, 0.2],
           mlabs=["0", "0.2"], dlim=(-0.2, 0.3), dticks=[-0.2, -0.1, 0, 0.1, 0.2, 0.3],
           dlabs=["-0.2", "-0.1", "0", "0.1", "0.2", "0.3"], lab_x=992, pv_x=1432, pl_x=1473,
           title=(1315, 1358), leg_y=1364, leg_h=9, leg_c=(1007, 1033), leg_a=(1100, 1126), tick_y=1680,
           xl_y=1693, mxl_x=1064, dxl_x=1307, fs_lab=8, fs_tick=7.5, fs_xl=12, fs_pv=8, fs_title=10.5,
           fs_leg=7.8, ms=10, cap=6, bh=0.40))

# ---- K ----
frect(52, 1772, 1495, 2235, fill=False, ec=FRAME, lw=3)
stacked((167, 1809, 695, 2184), [gen_s1, gen_s2, gen_s3, gen_s4, gen_s5, gen_s6, gen_s7, gen_s8, gen_s9, gen_s10],
        genus_colors, (0.39, 10.46), 0.52, "Percent of community\nabundance on Genus level", 101, 1977,
        ((172, 439), (450, 687)), (2185, 2200), (325, 564, 2214))
tax_legend(genus_names[::-1], genus_colors[::-1], 711, 1800, 13.1, 8, 7.6)
stamp(gen_diff_names, gen_mean_ctrl, gen_mean_ace2, gen_diff, gen_ci_lo, gen_ci_hi, gen_p,
      dict(mx=(995, 1131), dx=(1189, 1431), top=1854, row_h=41.5, axis_y=2151, mlim=(0, 0.15), mticks=[0, 0.15],
           mlabs=["0", "0.15"], dlim=(-0.1, 0.3), dticks=[-0.1, 0, 0.1, 0.2, 0.3],
           dlabs=["-0.1", "0", "0.1", "0.2", "0.3"], lab_x=990, pv_x=1436, pl_x=1479,
           title=(1318, 1842), leg_y=1843, leg_h=9, leg_c=(1012, 1037), leg_a=(1105, 1130), tick_y=2165,
           xl_y=2178, mxl_x=1063, dxl_x=1310, fs_lab=7.5, fs_tick=7.5, fs_xl=12, fs_pv=8, fs_title=10.5,
           fs_leg=7.8, ms=10, cap=6, bh=0.40))

fig.savefig("out.png", dpi=100)
